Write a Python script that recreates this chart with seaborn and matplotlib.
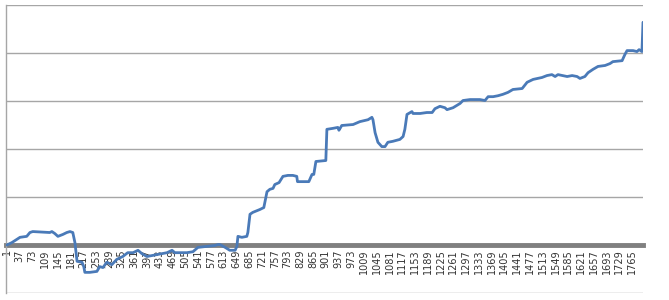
import matplotlib
matplotlib.use("Agg")
import matplotlib.pyplot as plt
import seaborn as sns
import pandas as pd

# Traced breakpoints of the cumulative series (index, value)
idx = [1, 15, 38, 57, 66, 74, 122, 128, 136, 145, 159, 170, 179, 187, 193, 199,
       213, 218, 221, 235, 255, 263, 272, 283, 297, 311, 328, 342, 357, 371, 382,
       396, 424, 453, 467, 475, 509, 526, 540, 565, 588, 597, 602, 617, 630, 645,
       650, 653, 664, 678, 681, 687, 695, 715, 726, 735, 743, 752, 757, 769, 780,
       794, 808, 819, 821, 853, 862, 867, 873, 901, 904, 921, 935, 938, 946, 978,
       997, 1020, 1031, 1034, 1040, 1048, 1059, 1068, 1076, 1090, 1110, 1119, 1124,
       1130, 1144, 1147, 1167, 1186, 1201, 1209, 1223, 1237, 1243, 1260, 1280, 1288,
       1308, 1336, 1350, 1359, 1373, 1387, 1401, 1415, 1429, 1455, 1469, 1486, 1511,
       1525, 1539, 1548, 1556, 1582, 1596, 1610, 1618, 1632, 1641, 1655, 1669, 1689,
       1703, 1711, 1737, 1745, 1751, 1768, 1779, 1785, 1793, 1796]
vals = [0.00, 0.05, 0.16, 0.18, 0.26, 0.28, 0.26, 0.28, 0.24, 0.18, 0.22, 0.26, 0.28,
        0.26, 0.05, -0.34, -0.36, -0.45, -0.57, -0.57, -0.55, -0.45, -0.47, -0.36,
        -0.41, -0.30, -0.24, -0.16, -0.16, -0.11, -0.18, -0.24, -0.20, -0.16, -0.11,
        -0.16, -0.16, -0.14, -0.05, -0.03, -0.01, 0.01, 0.01, -0.05, -0.11, -0.11,
        -0.03, 0.18, 0.16, 0.18, 0.26, 0.64, 0.68, 0.74, 0.78, 1.11, 1.16, 1.18, 1.26,
        1.30, 1.43, 1.45, 1.45, 1.43, 1.32, 1.32, 1.47, 1.47, 1.74, 1.76, 2.41, 2.43,
        2.45, 2.39, 2.49, 2.51, 2.57, 2.61, 2.66, 2.61, 2.34, 2.14, 2.05, 2.05, 2.14,
        2.16, 2.20, 2.26, 2.41, 2.72, 2.78, 2.74, 2.74, 2.76, 2.76, 2.84, 2.89, 2.86,
        2.82, 2.86, 2.95, 3.01, 3.03, 3.03, 3.01, 3.09, 3.09, 3.11, 3.14, 3.18, 3.24,
        3.26, 3.39, 3.45, 3.49, 3.53, 3.55, 3.51, 3.55, 3.51, 3.53, 3.51, 3.47, 3.51,
        3.59, 3.66, 3.72, 3.74, 3.78, 3.82, 3.84, 3.97, 4.05, 4.05, 4.03, 4.07, 4.03,
        4.64]
tick_labels = [str(v) for v in range(1, 1766, 36)]
tick_pos = [int(t) for t in tick_labels]
y_grid = [-1, 0, 1, 2, 3, 4, 5]

df = pd.DataFrame({"idx": idx, "val": vals})

sns.set_style("white")
fig = plt.figure(figsize=(6.69, 3.0), dpi=100)
ax = fig.add_axes([6 / 669, 1 - 293 / 300, (643 - 6) / 669, (293 - 5) / 300])

for g in y_grid:
    if g != 0:
        ax.axhline(g, color="#a6a6a6", lw=1.0, zorder=1)

sns.lineplot(data=df, x="idx", y="val", ax=ax, color="#4a7ab8", lw=2.0,
             zorder=3, estimator=None, sort=False)

ax.spines["bottom"].set_position(("data", 0))
ax.spines["bottom"].set_color("#808080")
ax.spines["bottom"].set_linewidth(3.5)
ax.spines["bottom"].set_zorder(2)
ax.spines["left"].set_color("#a6a6a6")
ax.spines["left"].set_linewidth(1.0)
ax.spines["top"].set_visible(False)
ax.spines["right"].set_visible(False)

ax.set_xlim(-1.5, 1796)
ax.set_ylim(-1, 5)
ax.set_xticks(tick_pos)
ax.set_xticklabels(tick_labels, fontsize=7, color="#333333",
                   family="DejaVu Sans")
ax.set_yticks([])
ax.tick_params(axis="x", length=0, pad=3, labelrotation=90)
ax.set_xlabel("")
ax.set_ylabel("")

fig.savefig("out.png", dpi=100)
